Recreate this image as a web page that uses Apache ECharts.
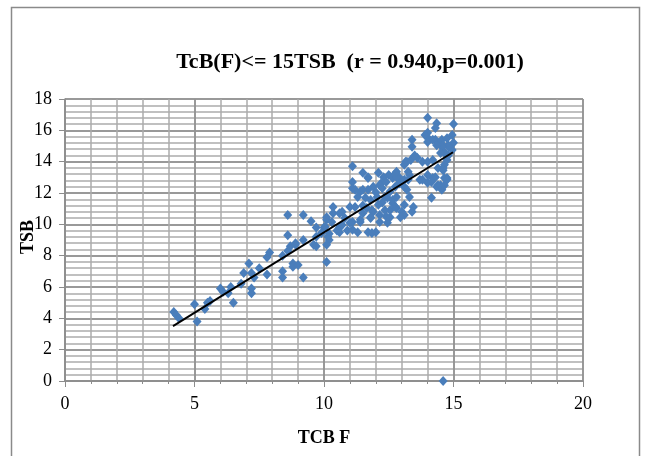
<!DOCTYPE html>
<html>
<head>
<meta charset="utf-8">
<script src="https://cdn.jsdelivr.net/npm/echarts@6/dist/echarts.min.js"></script>
<style>
html,body{margin:0;padding:0;background:#fff;}
#chart{width:647px;height:456px;}
</style>
</head>
<body>
<div id="chart"></div>
<script>
// ---- data ----
const titleText = "TcB(F)<= 15TSB  (r = 0.940,p=0.001)";
const xAxisTitle = "TCB F";
const yAxisTitle = "TSB";

const tcbF = [
4.2,4.3,4.4,5.0,5.1,5.4,5.5,5.6,6.0,6.1,6.3,6.4,6.5,6.8,6.9,7.1,7.2,7.2,7.2,7.3,7.5,7.8,7.8,7.9,8.4,8.4,8.4,8.6,8.7,8.8,8.8,8.9,9.0,9.2,9.2,9.6,9.7,10.1,10.2,10.1,8.6,9.2,9.5,9.7,8.9,8.6,9.7,
10.0,10.1,10.35,10.35,10.7,11.0,10.5,10.9,11.3,11.7,12.0,10.2,10.6,11.1,11.4,11.8,12.4,12.55,
11.1,11.5,11.7,12.1,12.3,12.5,12.7,12.9,13.1,13.2,11.1,11.1,11.4,11.7,11.9,12.2,12.4,12.55,12.75,12.9,
11.3,11.6,11.8,12.05,12.25,12.45,12.65,12.8,11.5,11.65,11.9,12.15,12.15,
14.0,14.35,14.3,15.0,14.0,14.0,14.3,14.55,14.75,14.95,15.0,14.8,14.6,14.4,13.4,13.4,13.15,13.35,13.6,13.8,14.0,14.2,14.4,14.6,14.75,14.8,14.95,14.65,
13.25,13.7,14.0,14.2,14.4,14.75,14.55,14.15,13.3,13.1,13.2,13.3,13.1,13.0,13.45,13.4,13.1,
11.7,12.65,12.8,12.15,11.2,11.5,12.0,12.25,12.35,12.65,12.8,12.1,11.85,11.5,11.2,12.35,12.55,12.75,
10.1,10.6,10.8,11.0,11.4,11.8,12.45,12.95,10.05,10.3,10.7,11.1,11.85,10.6,9.9,10.15,
13.9,14.0,14.2,14.5,14.8,14.55,14.35,14.65,14.5,13.5,14.65,14.6,14.65,14.75,14.3,14.15,14.0,13.8,12.8,13.25,13.1,14.35,14.5,14.65,
14.6
];
const tsb = [
4.4,4.2,4.0,4.9,3.8,4.6,5.0,5.1,5.9,5.7,5.6,6.0,5.0,6.2,6.9,7.5,6.9,5.9,5.6,6.6,7.2,6.8,7.9,8.2,7.0,6.6,8.0,9.3,8.6,7.5,7.3,8.8,7.4,6.6,9.0,8.7,8.6,7.6,9.0,8.7,10.6,10.6,10.2,9.8,8.7,8.3,9.2,
9.8,10.3,11.1,10.7,10.8,11.1,9.6,9.6,9.5,9.5,9.5,9.4,9.8,10.15,10.3,10.4,10.5,10.9,
13.7,13.3,13.0,13.3,13.0,13.15,13.15,13.0,13.8,14.0,12.7,12.3,12.1,12.2,12.4,12.6,12.7,12.1,12.4,12.6,
11.75,11.7,11.55,11.75,11.4,11.7,11.35,11.05,11.2,11.05,10.8,10.6,10.15,
16.8,16.45,16.15,16.4,15.85,15.55,15.4,15.4,15.5,15.7,15.2,15.05,15.05,15.2,15.4,14.95,14.0,14.1,14.25,14.0,14.0,14.1,13.6,13.6,14.1,14.4,14.75,14.6,
13.35,12.85,12.65,12.95,12.5,12.95,12.2,11.7,13.15,12.85,12.2,11.75,11.25,10.8,11.1,10.8,10.6,
12.95,12.95,13.0,12.5,12.2,12.2,12.05,12.3,11.75,11.55,11.75,11.25,10.9,10.7,11.1,10.9,10.45,11.1,
10.45,10.7,10.4,10.1,10.15,10.45,10.1,10.45,9.85,10.15,9.95,9.65,9.45,9.5,9.45,9.2,
15.7,15.25,15.4,15.25,14.95,14.95,15.05,14.55,14.55,14.4,13.8,13.45,12.95,12.85,13.0,12.7,13.15,12.85,13.35,12.85,12.4,12.4,12.5,12.5,
0
];
// fitted trendline ends
const trendX = [4.17, 14.98];
const trendY = [3.5, 14.6];

const xTicks = {min: 0, max: 20, step: 5, minorStep: 1};
const yTicks = {min: 0, max: 18, step: 2, minorStep: 0.4};

// ---- chart ----
const points = tcbF.map((x, i) => [x, tsb[i]]);
const trend = trendX.map((x, i) => [x, trendY[i]]);

const serif = "'Liberation Serif','Times New Roman',serif";
const major = '#8c8c8c';
const minor = '#ababab';

const chart = echarts.init(document.getElementById('chart'), null, {renderer: 'canvas'});
chart.setOption({
  animation: false,
  backgroundColor: '#fff',
  grid: {left: 65, right: 64, top: 99, bottom: 75},
  xAxis: [{
    type: 'value', min: xTicks.min, max: xTicks.max, interval: xTicks.minorStep,
    show: true, axisLine: {show: false}, axisTick: {show: false}, axisLabel: {show: false},
    splitLine: {show: true, lineStyle: {color: minor, width: 1.5}}
  }, {
    type: 'value', min: xTicks.min, max: xTicks.max, interval: xTicks.step, position: 'bottom',
    axisLine: {show: true, lineStyle: {color: major, width: 1.5}},
    axisTick: {show: true, length: 6, lineStyle: {color: major}},
    minorTick: {show: true, splitNumber: 5, length: 3, lineStyle: {color: major}},
    splitLine: {show: true, lineStyle: {color: major, width: 1.5}},
    axisLabel: {margin: 14, color: '#000', fontFamily: serif, fontSize: 18}
  }],
  yAxis: [{
    type: 'value', min: yTicks.min, max: yTicks.max, interval: yTicks.minorStep,
    show: true, axisLine: {show: false}, axisTick: {show: false}, axisLabel: {show: false},
    splitLine: {show: true, lineStyle: {color: minor, width: 1.5}}
  }, {
    type: 'value', min: yTicks.min, max: yTicks.max, interval: yTicks.step, position: 'left',
    axisLine: {show: true, lineStyle: {color: major, width: 1.5}},
    axisTick: {show: true, length: 6, lineStyle: {color: major}},
    splitLine: {show: true, lineStyle: {color: major, width: 1.5}},
    axisLabel: {margin: 13, color: '#000', fontFamily: serif, fontSize: 18}
  }],
  graphic: [
    {type: 'rect', left: 9, top: 5, z: 100, silent: true,
     shape: {width: 628, height: 470}, style: {fill: null, stroke: '#8a8a8a', lineWidth: 1.5}},
    {type: 'text', x: 350, y: 62, z: 100,
     style: {text: titleText, fontFamily: serif, fontWeight: 'bold', fontSize: 22, fill: '#000', textAlign: 'center', textVerticalAlign: 'middle'}},
    {type: 'text', x: 324, y: 438, z: 100,
     style: {text: xAxisTitle, fontFamily: serif, fontWeight: 'bold', fontSize: 18, fill: '#000', textAlign: 'center', textVerticalAlign: 'middle'}},
    {type: 'text', x: 28, y: 237, rotation: Math.PI / 2, z: 100,
     style: {text: yAxisTitle, fontFamily: serif, fontWeight: 'bold', fontSize: 18, fill: '#000', textAlign: 'center', textVerticalAlign: 'middle'}}
  ],
  series: [
    {type: 'scatter', xAxisIndex: 1, yAxisIndex: 1, data: points, symbol: 'diamond', symbolSize: [9, 10],
     itemStyle: {color: '#4a7ebb', opacity: 1}, z: 2},
    {type: 'line', xAxisIndex: 1, yAxisIndex: 1, data: trend, symbol: 'none', lineStyle: {color: '#000', width: 2}, z: 3}
  ]
});
</script>
</body>
</html>
